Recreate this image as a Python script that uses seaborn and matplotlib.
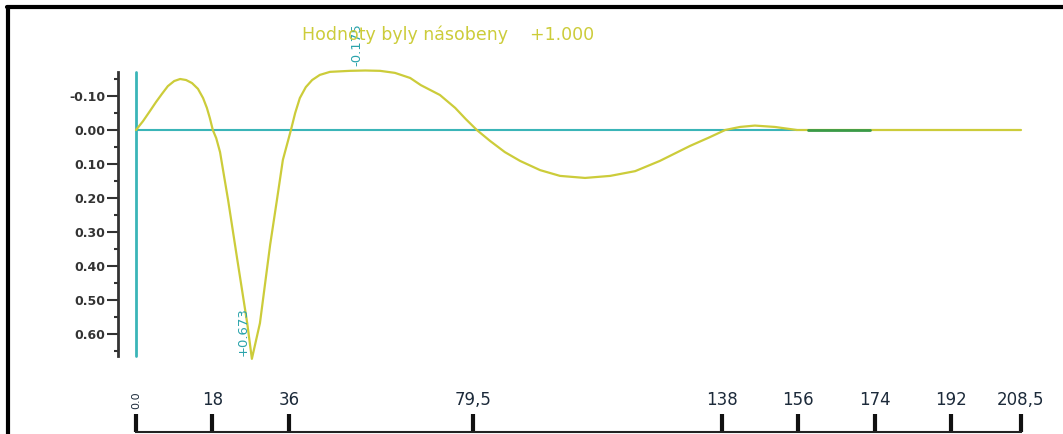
import matplotlib
matplotlib.use("Agg")
import matplotlib.pyplot as plt
import seaborn as sns
import pandas as pd
from matplotlib.lines import Line2D

# ---- data ----
curve_x = [0, 1.65, 3.3, 4.7, 6.1, 7.5, 9.0, 10.4, 11.8, 13.2, 14.6, 15.8, 16.7, 17.4,
           18.1, 18.9, 19.8, 20.7, 21.7, 23.8, 26.2, 27.3, 29.2, 31.6, 33.2, 34.6,
           36.5, 37.5, 38.6, 40.0, 41.5, 43.3, 45.7, 50.4, 54.0, 57.5, 61.0, 64.6,
           67.1, 71.6, 75.2, 77.7, 80.3, 83.4, 86.9, 90.5, 95.2, 99.9, 105.8, 111.7,
           117.6, 123.4, 130.5, 135.2, 138.8, 142.3, 145.8, 150.5, 155.7, 208.5]
curve_y = [0, -0.026, -0.056, -0.082, -0.106, -0.129, -0.144, -0.150, -0.147, -0.138,
           -0.121, -0.094, -0.065, -0.035, 0, 0.024, 0.065, 0.132, 0.206, 0.376,
           0.568, 0.673, 0.568, 0.338, 0.206, 0.088, 0, -0.050, -0.094, -0.126,
           -0.147, -0.162, -0.171, -0.174, -0.175, -0.174, -0.168, -0.153, -0.132,
           -0.103, -0.065, -0.032, 0, 0.032, 0.065, 0.091, 0.118, 0.135, 0.141,
           0.135, 0.121, 0.091, 0.047, 0.021, 0, -0.009, -0.013, -0.009, 0, 0]
green_x = [158.3, 172.9]
green_y = [0, 0]
zero_line_x = [0, 155.7]
y_ticks = [-0.10, 0.00, 0.10, 0.20, 0.30, 0.40, 0.50, 0.60]
y_tick_labels = ["-0.10", "0.00", "0.10", "0.20", "0.30", "0.40", "0.50", "0.60"]
x_ticks = [0, 18, 36, 79.5, 138, 156, 174, 192, 208.5]
x_tick_labels = ["0.0", "18", "36", "79,5", "138", "156", "174", "192", "208,5"]
peak_labels = [("-0.175", 52.1, -0.188), ("+0.673", 25.2, 0.665)]
title_text = "Hodnoty byly násobeny    +1.000"

sns.set_style("white")
plt.rcParams['font.family'] = ['DejaVu Sans']

W, H = 1063, 434
fig = plt.figure(figsize=(W / 100, H / 100), dpi=100)
fig.patch.set_facecolor("white")

px_per_unit = 4.245
x_left = -18 / px_per_unit
ax_left_px, ax_right_px = 118, 1021
ax_top_px, ax_bot_px = 72, 356
ax = fig.add_axes([ax_left_px / W, (H - ax_bot_px) / H,
                   (ax_right_px - ax_left_px) / W, (ax_bot_px - ax_top_px) / H])
ax.set_facecolor("none")
ylim_top = (ax_top_px - 130) / 340
ylim_bot = (ax_bot_px - 130) / 340
ax.set_xlim(x_left, 208.5)
ax.set_ylim(ylim_bot, ylim_top)

teal = "#3ab5b8"
yellow = "#cccc3a"

# axis lines in teal
ax.plot([0, 0], [ylim_top, ylim_bot], color=teal, lw=2.0, clip_on=False, zorder=2)
ax.plot(zero_line_x, [0, 0], color=teal, lw=1.5, zorder=2)

df = pd.DataFrame({"x": curve_x, "y": curve_y})
sns.lineplot(data=df, x="x", y="y", ax=ax, color=yellow, lw=1.6, sort=False,
             estimator=None, zorder=3)
for l in ax.lines:
    l.set_clip_on(False)
    l.set_solid_joinstyle("round")
ax.plot(green_x, green_y, color="#3a9a48", lw=2.0, zorder=4)

for txt, xx, yy in peak_labels:
    ax.text(xx, yy, txt, rotation=90, ha="center", va="bottom", color="#2aa3ab",
            fontsize=9.5, clip_on=False, zorder=5)

for s in ["top", "right", "bottom"]:
    ax.spines[s].set_visible(False)
ax.spines["left"].set_color("#333333")
ax.spines["left"].set_linewidth(2)
ax.set_yticks(y_ticks)
ax.set_yticklabels(y_tick_labels)
ax.set_yticks([-0.15, -0.05, 0.05, 0.15, 0.25, 0.35, 0.45, 0.55, 0.65], minor=True)
ax.tick_params(axis="y", which="major", direction="out", length=8, width=1.5,
               color="#333333", labelsize=9, labelcolor="#333333", pad=1, left=True)
ax.tick_params(axis="y", which="minor", direction="out", length=3, width=1.5,
               color="#333333", left=True)
for t in ax.get_yticklabels():
    t.set_fontweight("bold")
ax.set_xticks([])
ax.set_xlabel("")
ax.set_ylabel("")

# bottom axis (line at bottom with ticks pointing up, labels above)
ax2 = fig.add_axes([ax_left_px / W, 0, (ax_right_px - ax_left_px) / W, 2.5 / H])
ax2.set_facecolor("none")
ax2.set_xlim(x_left, 208.5)
ax2.set_yticks([])
for s in ["left", "right", "bottom"]:
    ax2.spines[s].set_visible(False)
ax2.spines["top"].set_bounds(0, 208.5)
ax2.spines["top"].set_color("#222222")
ax2.spines["top"].set_linewidth(1.5)
ax2.xaxis.set_ticks_position("top")
ax2.set_xticks(x_ticks)
ax2.set_xticklabels(x_tick_labels)
ax2.tick_params(axis="x", direction="out", length=13, width=3, color="#111111",
                labelsize=12, labelcolor="#1c2a3a", pad=3, top=True, labeltop=True,
                bottom=False, labelbottom=False)
lbl0 = ax2.get_xticklabels()[0]
lbl0.set_rotation(90)
lbl0.set_fontsize(8)

# title
fig.text(302 / W, (H - 35) / H, title_text, ha="left", va="center", color=yellow,
         fontsize=12.5, zorder=1)

# frame border
fig.add_artist(Line2D([7 / W, 1.0], [(H - 7) / H, (H - 7) / H], color="black", lw=3))
fig.add_artist(Line2D([8 / W, 8 / W], [0, (H - 7) / H], color="black", lw=3))

fig.savefig("out.png", dpi=100, facecolor="white")
